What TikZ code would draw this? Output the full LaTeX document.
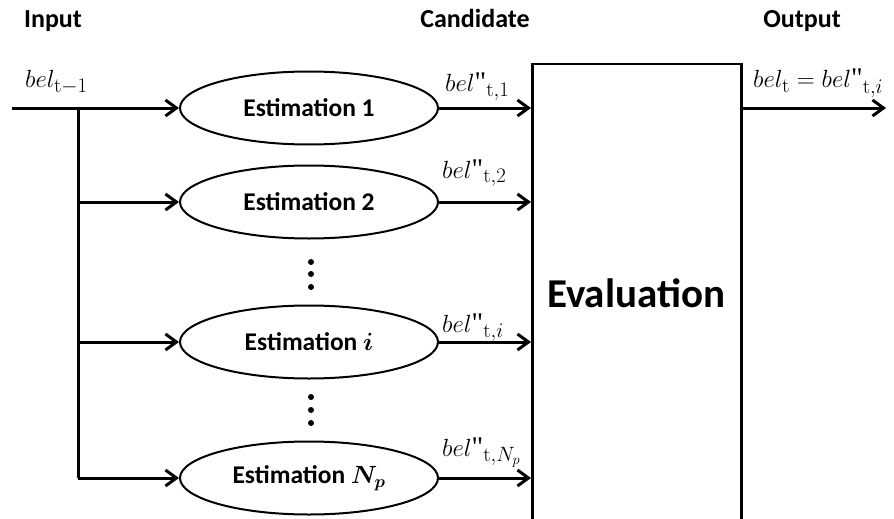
\documentclass[tikz,border=0pt]{standalone}
\usepackage{bm}
\usepackage[no-math]{fontspec}
\setmainfont{Carlito}
\newfontfamily\qfont{Liberation Serif}
\usetikzlibrary{arrows.meta,shapes.geometric}
\newcommand{\dq}{\mbox{\qfont"}}
\begin{document}
\begin{tikzpicture}[x=1pt,y=-1pt,
  flow/.style={line width=3pt,-{Straight Barb[length=11pt,width=16pt,line width=3pt]}},
  estbox/.style={ellipse,draw,line width=2pt,minimum width=258pt,minimum height=73pt,
    inner sep=0pt,font=\fontsize{25.5}{30}\selectfont\bfseries},
  head/.style={font=\fontsize{26}{30}\selectfont\bfseries,anchor=base},
  mlabel/.style={font=\fontsize{28.5}{33}\selectfont,anchor=base west,inner sep=0pt}]
\useasboundingbox (0,0) rectangle (894,519);
\clip (0,0) rectangle (894,519);

% column headings
\node[head] (hin)  at (53,28)  {Input};
\node[head] (hcan) at (475,28) {Candidate};
\node[head] (hout) at (802,28) {Output};

% estimation ellipses
\node[estbox] (e1) at (309,108) {Estimation 1};
\node[estbox] (e2) at (309,202) {Estimation 2};
\node[estbox] (ei) at (309,342) {Estimation $\bm{i}$};
\node[estbox] (en) at (309,478) {Estimation $\bm{N_p}$};

% evaluation block (runs past the lower edge)
\node[draw,line width=2.5pt,minimum width=209pt,minimum height=500pt,anchor=north west,
  inner sep=0pt] (ev) at (531,63) {};
\node[font=\fontsize{41}{46}\selectfont\bfseries,anchor=base] (evt) at (636,307) {Evaluation};

% input distribution
\coordinate (in) at (12,108);
\coordinate (split) at (78,108);
\coordinate (bot) at (78,478);
\draw[flow] (in) -- (e1.west);
\draw[line width=3pt] (split) -- (bot);
\draw[flow] (78,202) -- (e2.west);
\draw[flow] (78,342) -- (ei.west);
\draw[flow] (bot) -- (en.west);

% candidate outputs
\draw[flow] (e1.east) -- (e1.east -| ev.west);
\draw[flow] (e2.east) -- (e2.east -| ev.west);
\draw[flow] (ei.east) -- (ei.east -| ev.west);
\draw[flow] (en.east) -- (en.east -| ev.west);

% final output
\coordinate (out) at (886,108);
\draw[flow] (ev.east |- out) -- (out);

% labels
\node[mlabel] (lin) at (25,88) {$bel_{\mathrm{t}-1}$};
\node[mlabel] (l1) at (445,92) {$bel\dq_{\mathrm{t},1}$};
\node[mlabel] (l2) at (442,178) {$bel\dq_{\mathrm{t},2}$};
\node[mlabel] (li) at (442,332) {$bel\dq_{\mathrm{t},i}$};
\node[mlabel] (ln) at (442,456) {$bel\dq_{\mathrm{t},N_p}$};
\node[mlabel] (lout) at (753,88) {$bel_{\mathrm{t}} = bel\dq_{\mathrm{t},i}$};

% ellipsis dots
\foreach \yy in {262,274,287,397,410,423}
  \fill (311,\yy) circle (3pt);
\end{tikzpicture}
\end{document}
